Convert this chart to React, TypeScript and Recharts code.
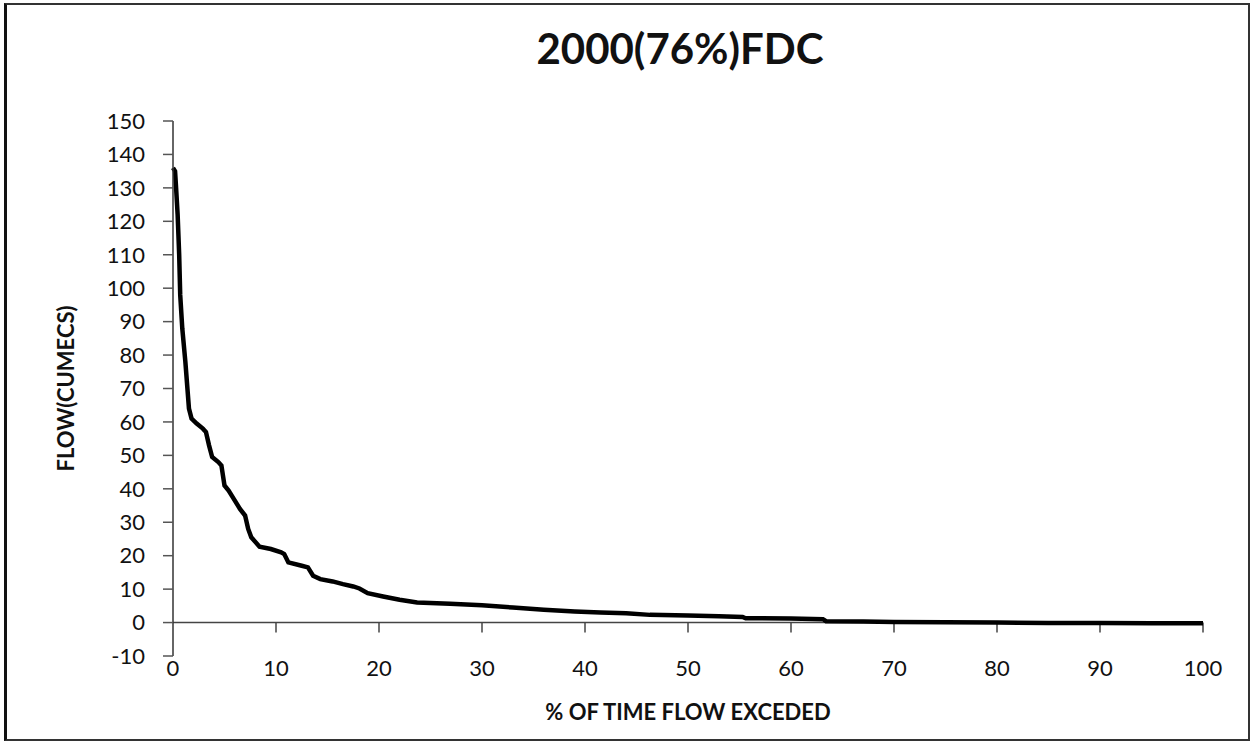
import React from "react";
import { LineChart, Line, XAxis, YAxis, ReferenceLine } from "recharts";

// % of time flow exceeded vs flow (cumecs)
const pct = [
  0, 0.2, 0.3, 0.45, 0.6, 0.7, 0.9, 1.2, 1.4, 1.55, 1.8, 2.3, 2.9, 3.2, 3.5, 3.8,
  4.4, 4.7, 5.0, 5.4, 5.9, 6.5, 7.0, 7.3, 7.6, 8.4, 9.5, 10.5, 10.8, 11.2, 12.5,
  13.1, 13.6, 14.3, 15.5, 16.5, 17.5, 18.1, 18.9, 20.4, 22, 23.7, 26.9, 30, 33,
  36, 39, 41.5, 44, 46.3, 50, 53, 55.3, 55.6, 60, 63.1, 63.4, 67, 70, 75, 80, 85,
  90, 95, 100,
];
const flow = [
  136, 135, 130, 122, 110, 98, 88, 78, 70, 64, 61, 59.5, 58, 57, 53, 49.5,
  48, 47, 41, 39.5, 37, 34, 32, 28, 25.5, 22.7, 22, 21, 20.5, 18, 17,
  16.5, 14, 13, 12.3, 11.5, 10.8, 10.2, 8.8, 7.8, 6.8, 6.0, 5.6, 5.2, 4.5,
  3.8, 3.3, 3.0, 2.8, 2.3, 2.1, 1.9, 1.7, 1.3, 1.2, 1.0, 0.4, 0.3, 0.2, 0.1, 0, -0.1,
  -0.1, -0.2, -0.2,
];
const xTicks = [0, 10, 20, 30, 40, 50, 60, 70, 80, 90, 100];
const yTicks = [-10, 0, 10, 20, 30, 40, 50, 60, 70, 80, 90, 100, 110, 120, 130, 140, 150];

const title = "2000(76%)FDC";
const xTitle = "% OF TIME FLOW EXCEDED";
const yTitle = "FLOW(CUMECS)";

const data = pct.map((p, i) => ({ x: p, y: flow[i] }));

const FONT = "Lato, 'Open Sans', sans-serif";

export default function App() {
  return (
    <div style={{ position: "absolute", left: 0, top: 0, width: 1252, height: 743, background: "#fff", fontFamily: FONT }}>
      <LineChart width={1252} height={743} data={data} margin={{ top: 121, right: 49, bottom: 37, left: 103 }}>
        <XAxis
          type="number"
          dataKey="x"
          domain={[0, 100]}
          ticks={xTicks}
          interval={0}
          axisLine={false}
          tickLine={false}
          tickSize={4}
          tickMargin={0}
          height={50}
          tick={{ fill: "#111", fontSize: 22, fontFamily: FONT }}
          label={{ value: xTitle, position: "bottom", offset: -2, fill: "#111", fontSize: 22, fontWeight: 700, fontFamily: FONT }}
        />
        <YAxis
          type="number"
          domain={[-10, 150]}
          ticks={yTicks}
          interval={0}
          width={70}
          axisLine={{ stroke: "#333", strokeWidth: 1.5 }}
          tickLine={{ stroke: "#555", strokeWidth: 1.5 }}
          tickSize={10}
          tickMargin={18}
          tick={{ fill: "#111", fontSize: 22, fontFamily: FONT }}
          label={{ value: yTitle, angle: -90, position: "center", dx: -72, fill: "#111", fontSize: 22, fontWeight: 700, fontFamily: FONT }}
        />
        <ReferenceLine y={0} stroke="#444" strokeWidth={1.5} ifOverflow="extendDomain" />
        {xTicks.slice(1).map((t) => (
          <ReferenceLine
            key={t}
            segment={[{ x: t, y: 0 }, { x: t, y: -3 }]}
            stroke="#444"
            strokeWidth={1.5}
          />
        ))}
        <Line type="linear" dataKey="y" stroke="#000" strokeWidth={4.5} dot={false} isAnimationActive={false} />
      </LineChart>
      <div
        style={{
          position: "absolute",
          left: 160,
          width: 1040,
          top: 21,
          textAlign: "center",
          fontSize: 42,
          lineHeight: "54px",
          fontWeight: 700,
          color: "#111",
        }}
      >
        {title}
      </div>
      <div
        style={{
          position: "absolute",
          left: 4,
          top: 3,
          right: 2,
          bottom: 2,
          borderTop: "2px solid #333",
          borderRight: "2px solid #333",
          borderBottom: "2px solid #333",
          borderLeft: "3px solid #111",
          pointerEvents: "none",
        }}
      />
    </div>
  );
}
